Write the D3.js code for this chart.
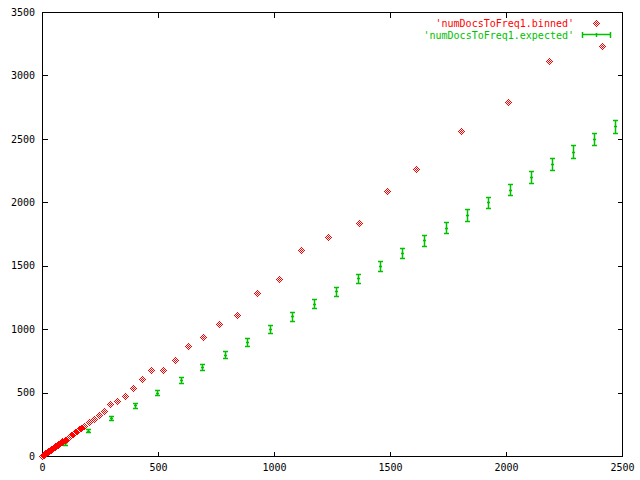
<!DOCTYPE html>
<html><head><meta charset="utf-8">
<script src="https://cdn.jsdelivr.net/npm/d3@7"></script>
<style>body{margin:0;background:#fff}svg{display:block}text{font-family:"DejaVu Sans Mono",monospace;font-size:10px}</style>
</head><body>
<script>
const binnedX = [1,3,5,7,9,11,13,15,17,19,21,23,25,27,29,31,34,37,40,43,46,49,52,55,58,61,64,67,70,73,76,79,82,85,88,
  99,108,116,125,134,142,151,159,168,182,204,225,247,269,294,325,359,394,432,471,523,575,631,695,764,842,928,1023,1118,1234,1368,1489,1614,1807,2010,2187,2412];
const binnedY = [1,4,7,9,12,15,17,20,23,26,28,31,33,36,40,42,46,50,54,58,63,66,70,73,77,82,87,90,95,98,103,106,111,114,118,
  129,136,152,163,176,189,200,213,223,239,270,294,326,358,412,431,470,533,604,675,675,754,865,935,1038,1109,1282,1393,1621,1724,1834,2087,2260,2562,2788,3111,3230];
const expX = [100,200,299,399,497,599,691,790,885,984,1079,1174,1269,1363,1458,1553,1648,1740,1833,1924,2019,2109,2200,2290,2381,2471];
const expY = [100,200,300,400,500,600,700,800,900,1000,1100,1200,1300,1400,1500,1600,1700,1800,1900,2000,2100,2200,2300,2400,2500,2600];
const expErr = [10,14,17,20,22,24,26,28,30,32,33,35,36,37,39,40,41,42,44,45,46,47,48,49,50,51];
const xTicks = [0,500,1000,1500,2000,2500];
const yTicks = [0,500,1000,1500,2000,2500,3000,3500];
const seriesNames = ["'numDocsToFreq1.binned'", "'numDocsToFreq1.expected'"];

const W = 640, H = 480;
const L = 42, R = 622, T = 12, B = 456;
const RED = "#ff0000", GREEN = "#00c000";
const svg = d3.select("body").append("svg").attr("width", W).attr("height", H).attr("shape-rendering","crispEdges");
const x = d3.scaleLinear().domain([0,2500]).range([L,R]);
const y = d3.scaleLinear().domain([0,3500]).range([B,T]);
const ix = v => Math.round(x(v));
const iy = v => Math.round(y(v));

svg.append("rect").attr("x",L+0.5).attr("y",T+0.5).attr("width",R-L).attr("height",B-T)
  .attr("fill","none").attr("stroke","#000");

const gx = svg.append("g").attr("transform",`translate(0,${B})`)
  .call(d3.axisBottom(x).tickValues(xTicks).tickSize(0).tickPadding(8).tickFormat(d3.format("d")));
const gy = svg.append("g").attr("transform",`translate(${L},0)`)
  .call(d3.axisLeft(y).tickValues(yTicks).tickSize(0).tickPadding(7).tickFormat(d3.format("d")));
[gx,gy].forEach(g=>{g.select(".domain").remove(); g.selectAll("text").attr("fill","#000").style("font-family","DejaVu Sans Mono").style("font-size","10px");});
const tl = 5;
const tk = svg.append("g").attr("stroke","#000");
xTicks.forEach(v=>{
  tk.append("line").attr("x1",ix(v)+0.5).attr("x2",ix(v)+0.5).attr("y1",B+0.5).attr("y2",B+0.5-tl);
  tk.append("line").attr("x1",ix(v)+0.5).attr("x2",ix(v)+0.5).attr("y1",T+0.5).attr("y2",T+0.5+tl);
});
yTicks.forEach(v=>{
  tk.append("line").attr("y1",iy(v)+0.5).attr("y2",iy(v)+0.5).attr("x1",L+0.5).attr("x2",L+0.5+tl);
  tk.append("line").attr("y1",iy(v)+0.5).attr("y2",iy(v)+0.5).attr("x1",R+0.5).attr("x2",R+0.5-tl);
});

const diamondCells = [];
for(let dx=-3;dx<=3;dx++)for(let dy=-3;dy<=3;dy++){const s=Math.abs(dx)+Math.abs(dy); if(s<=3 && s%2===1) diamondCells.push([dx,dy]);}
function diamondPath(cx, cy){ return diamondCells.map(([dx,dy])=>`M${cx+dx},${cy+dy}h1v1h-1z`).join(""); }

function errbar(g, cx, cy, top, bot){
  const c = cx + 0.5;
  g.append("line").attr("x1",c).attr("x2",c).attr("y1",top+0.5).attr("y2",bot+0.5);
  g.append("line").attr("x1",cx-2).attr("x2",cx+3).attr("y1",top+0.5).attr("y2",top+0.5);
  g.append("line").attr("x1",cx-2).attr("x2",cx+3).attr("y1",bot+0.5).attr("y2",bot+0.5);
  g.append("line").attr("x1",cx-1).attr("x2",cx+2).attr("y1",cy+0.5).attr("y2",cy+0.5);
}

const gE = svg.append("g").attr("stroke",GREEN).attr("stroke-width",1.5).attr("shape-rendering","auto");
expX.forEach((v,i)=>errbar(gE, ix(v), iy(expY[i]), iy(expY[i]+expErr[i]), iy(expY[i]-expErr[i])));

svg.append("path").attr("fill",RED)
  .attr("d", binnedX.map((v,i)=>diamondPath(ix(v), iy(binnedY[i]))).join(""));

const lg = svg.append("g");
lg.append("text").attr("x",574).attr("y",23).attr("dy","0.35em").attr("text-anchor","end").attr("fill",RED).text(seriesNames[0]);
lg.append("text").attr("x",574).attr("y",35).attr("dy","0.35em").attr("text-anchor","end").attr("fill",GREEN).text(seriesNames[1]);
lg.append("path").attr("fill",RED).attr("d",diamondPath(596,23));
const ls = lg.append("g").attr("stroke",GREEN).attr("stroke-width",1.5).attr("shape-rendering","auto");
ls.append("line").attr("x1",582).attr("x2",611).attr("y1",34.5).attr("y2",34.5);
ls.append("line").attr("x1",582.5).attr("x2",582.5).attr("y1",32).attr("y2",38);
ls.append("line").attr("x1",610.5).attr("x2",610.5).attr("y1",32).attr("y2",38);
ls.append("line").attr("x1",596.5).attr("x2",596.5).attr("y1",33).attr("y2",37);
</script>
</body></html>
